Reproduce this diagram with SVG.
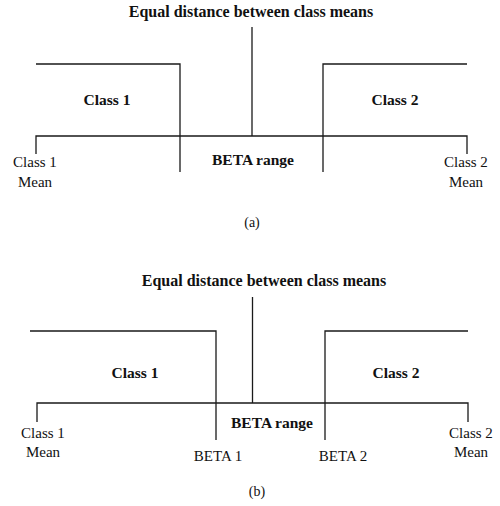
<svg xmlns="http://www.w3.org/2000/svg" width="500" height="506" viewBox="0 0 500 506">
<style>
.ln{stroke:#1a1a1a;stroke-width:1.3;fill:none}
.b{font-family:"Liberation Serif","Times New Roman",serif;font-weight:bold;font-size:15.5px;fill:#111;text-anchor:middle}
.t{font-size:16px}
.r{font-family:"Liberation Serif","Times New Roman",serif;font-size:15px;fill:#111;text-anchor:middle}
</style>
<rect width="500" height="506" fill="#fff"/>
<g id="panel-a">
<g id="a-title"><text class="b t" x="251" y="17">Equal distance between class means</text></g>
<g id="a-class1"><text class="b" x="107" y="105">Class 1</text></g>
<g id="a-class2"><text class="b" x="395" y="105">Class 2</text></g>
<g id="a-beta-range"><text class="b" x="253" y="165">BETA range</text></g>
<g id="a-mean1"><text class="r" x="35" y="167">Class 1</text><text class="r" x="35" y="187">Mean</text></g>
<g id="a-mean2"><text class="r" x="466" y="167">Class 2</text><text class="r" x="466" y="187">Mean</text></g>
<g id="a-label"><text class="r" x="252" y="227" style="font-size:14px">(a)</text></g>
<g id="a-connectors">
<path class="ln" d="M252 27V136"/>
<path class="ln" d="M36 64H180V172"/>
<path class="ln" d="M467 64H323V172"/>
<path class="ln" d="M36 154V136H467V154"/>
</g>
</g>
<g id="panel-b">
<g id="b-title"><text class="b t" x="264" y="286">Equal distance between class means</text></g>
<g id="b-class1"><text class="b" x="135" y="378">Class 1</text></g>
<g id="b-class2"><text class="b" x="396" y="378">Class 2</text></g>
<g id="b-beta-range"><text class="b" x="272" y="428">BETA range</text></g>
<g id="b-mean1"><text class="r" x="43" y="438">Class 1</text><text class="r" x="43" y="457">Mean</text></g>
<g id="b-mean2"><text class="r" x="471" y="438">Class 2</text><text class="r" x="471" y="457">Mean</text></g>
<g id="b-beta1"><text class="r" x="218" y="461">BETA 1</text></g>
<g id="b-beta2"><text class="r" x="343" y="461">BETA 2</text></g>
<g id="b-label"><text class="r" x="257" y="496" style="font-size:14px">(b)</text></g>
<g id="b-connectors">
<path class="ln" d="M252.5 297V403"/>
<path class="ln" d="M30 331H216V440"/>
<path class="ln" d="M468 331H325V440"/>
<path class="ln" d="M37 422V403H468V422"/>
</g>
</g>
</svg>
